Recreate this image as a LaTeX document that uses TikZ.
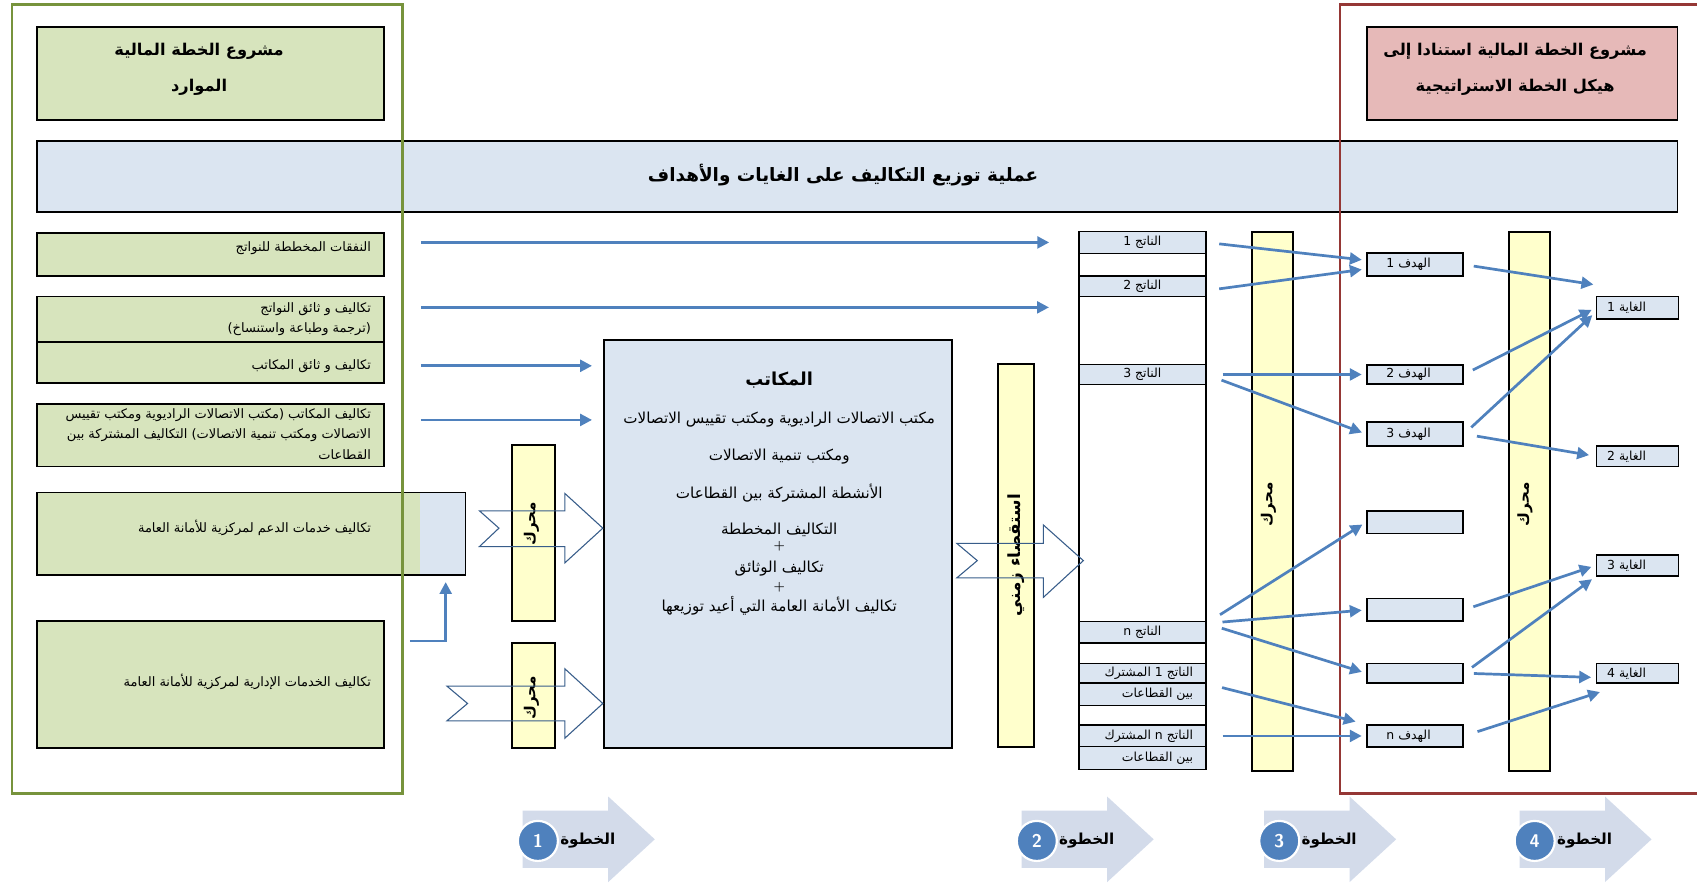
\documentclass[tikz,border=0pt]{standalone}
\usepackage{fontspec}
\usetikzlibrary{arrows.meta,positioning,calc}
\newfontfamily\arabicfont[Script=Arabic]{DejaVu Sans}
\TeXXeTstate=1
\newcommand\artxt[1]{{\arabicfont\beginR #1\endR}}
\definecolor{boxgreen}{HTML}{D7E4BD}
\definecolor{boxblue}{HTML}{DBE5F1}
\definecolor{boxpink}{HTML}{E6B9B8}
\definecolor{baryellow}{HTML}{FFFFCC}
\definecolor{arrowblue}{HTML}{4F81BD}
\definecolor{hollowblue}{HTML}{385D8A}
\definecolor{framegreen}{HTML}{77933C}
\definecolor{framered}{HTML}{953735}
\definecolor{stepfill}{HTML}{D3DBEA}

\tikzset{
	gbox/.style={draw, line width=1.6pt, fill=boxgreen, inner sep=0pt},
	bbox/.style={draw, line width=1.6pt, fill=boxblue, inner sep=0pt},
	rowbox/.style={draw, line width=1.2pt, fill=boxblue, inner sep=0pt, minimum width=117},
	goalbox/.style={draw, line width=1.6pt, fill=boxblue, inner sep=0pt, minimum width=89},
	aimbox/.style={draw, line width=1.6pt, fill=boxblue, inner sep=0pt, minimum width=76},
	ybar/.style={draw, line width=2pt, fill=baryellow, inner sep=0pt},
	bluearrow/.style={draw=arrowblue, line width=2.5pt, -{Triangle[length=11pt,width=11pt]}},
	hollow/.style={draw=hollowblue, line width=1pt},
	smalltxt/.style={font=\fontsize{11.5}{13}\selectfont, inner sep=0pt},
	lefttxt/.style={font=\fontsize{12}{19}\selectfont, inner sep=0pt, anchor=east, align=right},
	midtxt/.style={font=\fontsize{14}{16}\selectfont, inner sep=0pt},
	bartxt/.style={font=\fontsize{14}{16}\selectfont\bfseries, rotate=90, inner sep=0pt}
}

\begin{document}
\begin{tikzpicture}[x=1pt,y=-1pt]
	\useasboundingbox (0,0) rectangle (1568,815);
	
	% titles and band
	\node[gbox, minimum width=321, minimum height=86] (titleL) at (194.5,68) {};
	\node[font=\fontsize{15}{33}\selectfont\bfseries, align=center] at (184,64) {\artxt{مشروع الخطة المالية}\\\artxt{الموارد}};
	\node[gbox, fill=boxpink, minimum width=287, minimum height=86] (titleR) at (1406.5,68) {};
	\node[font=\fontsize{15}{33}\selectfont\bfseries, align=center] at (1400,64) {\artxt{مشروع الخطة المالية استنادا إلى}\\\artxt{هيكل الخطة الاستراتيجية}};
	\node[bbox, minimum width=1516, minimum height=66] (band) at (792,163) {};
	\node[font=\fontsize{17}{20}\selectfont\bfseries] at (779,162) {\artxt{عملية توزيع التكاليف على الغايات والأهداف}};
	
	% left boxes
	\node[gbox, minimum width=321, minimum height=40] (nafaqat) at (194.5,235) {};
	\node[lefttxt] at (343,229) {\artxt{النفقات المخططة للنواتج}};
	\node[gbox, minimum width=321, minimum height=42] (wathaiq) at (194.5,295) {};
	\node[lefttxt] at (343,295) {\artxt{تكاليف و ثائق النواتج}\\\artxt{(ترجمة وطباعة واستنساخ)}};
	\node[gbox, minimum width=321, minimum height=38] (maktab) at (194.5,335) {};
	\node[lefttxt] at (343,338) {\artxt{تكاليف و ثائق المكاتب}};
	\node[gbox, minimum width=321, minimum height=58] (takmak) at (194.5,402) {};
	\node[lefttxt] at (343,401) {\artxt{تكاليف المكاتب (مكتب الاتصالات الراديوية ومكتب تقييس}\\\artxt{الاتصالات ومكتب تنمية الاتصالات) التكاليف المشتركة بين}\\\artxt{القطاعات}};
	\node[bbox, minimum width=396, minimum height=76,
		path picture={\fill[boxgreen] (path picture bounding box.north west) rectangle ([xshift=-42pt]path picture bounding box.south east);}] (daam) at (232,493) {};
	\node[lefttxt] at (343,488) {\artxt{تكاليف خدمات الدعم لمركزية للأمانة العامة}};
	\node[gbox, minimum width=321, minimum height=117] (idaria) at (194.5,632.5) {};
	\node[lefttxt] at (343,630) {\artxt{تكاليف الخدمات الإدارية لمركزية للأمانة العامة}};
	
	% offices
	\node[bbox, line width=2pt, minimum width=322, minimum height=377] (makatib) at (719,502.5) {};
	\node[midtxt, font=\fontsize{16.5}{18}\selectfont\bfseries] at (720,351) {\artxt{المكاتب}};
	\node[midtxt] at (720,388) {\artxt{مكتب الاتصالات الراديوية ومكتب تقييس الاتصالات}};
	\node[midtxt] at (720,422) {\artxt{ومكتب تنمية الاتصالات}};
	\node[midtxt] at (720,456) {\artxt{الأنشطة المشتركة بين القطاعات}};
	\node[midtxt] at (720,490) {\artxt{التكاليف المخططة}};
	\node[midtxt, font=\fontsize{12}{12}\selectfont\bfseries] at (720,505) {+};
	\node[midtxt] at (720,525) {\artxt{تكاليف الوثائق}};
	\node[midtxt, font=\fontsize{12}{12}\selectfont\bfseries] at (720,543) {+};
	\node[midtxt] at (720,560) {\artxt{تكاليف الأمانة العامة التي أعيد توزيعها}};
	
	% driver bars
	\node[ybar, minimum width=40, minimum height=163] (bar1) at (493,492.5) {};
	\node[bartxt] at (491,484) {\artxt{محرك}};
	\node[ybar, minimum width=40, minimum height=97] (bar2) at (493,642.5) {};
	\node[bartxt] at (491,645) {\artxt{محرك}};
	\node[ybar, minimum width=33, minimum height=354] (bar3) at (938.5,513) {};
	\node[bartxt, font=\fontsize{15.5}{17}\selectfont\bfseries] at (938.5,513) {\artxt{استقصاء زمني}};
	\node[ybar, minimum width=38, minimum height=498] (bar4) at (1176,463) {};
	\node[bartxt] at (1172,466) {\artxt{محرك}};
	\node[ybar, minimum width=38, minimum height=498] (bar5) at (1413,463) {};
	\node[bartxt] at (1409,466) {\artxt{محرك}};
	
	% outputs column
	\node[draw, line width=1.6pt, fill=white, minimum width=117, minimum height=497, inner sep=0pt] (outcol) at (1055.5,462.5) {};
	\node[rowbox, minimum height=20] (nat1) at (1055.5,224) {};
	\node[smalltxt] at (nat1) {\artxt{الناتج 1}};
	\node[rowbox, minimum height=19] (nat2) at (1055.5,264.5) {};
	\node[smalltxt] at (nat2) {\artxt{الناتج 2}};
	\node[rowbox, minimum height=18] (nat3) at (1055.5,346) {};
	\node[smalltxt] at (nat3) {\artxt{الناتج 3}};
	\node[rowbox, minimum height=20] (natn) at (1055.5,584) {};
	\node[smalltxt] at (natn) {\artxt{الناتج n}};
	\node[rowbox, minimum height=18] (mush1a) at (1055.5,622) {};
	\node[smalltxt, anchor=east] at ([xshift=-12pt]mush1a.east) {\artxt{الناتج 1 المشترك}};
	\node[rowbox, minimum height=21] (mush1b) at (1055.5,641.5) {};
	\node[smalltxt, anchor=east] at ([xshift=-12pt]mush1b.east) {\artxt{بين القطاعات}};
	\node[rowbox, minimum height=20] (mushna) at (1055.5,680) {};
	\node[smalltxt, anchor=east] at ([xshift=-12pt]mushna.east) {\artxt{الناتج n المشترك}};
	\node[rowbox, minimum height=21] (mushnb) at (1055.5,700.5) {};
	\node[smalltxt, anchor=east] at ([xshift=-12pt]mushnb.east) {\artxt{بين القطاعات}};
	
	% goals
	\node[goalbox, minimum height=21] (hadaf1) at (1307.5,244.5) {};
	\node[smalltxt] at ([xshift=-6pt]hadaf1.center) {\artxt{الهدف 1}};
	\node[goalbox, minimum height=18] (hadaf2) at (1307.5,346) {};
	\node[smalltxt] at ([xshift=-6pt]hadaf2.center) {\artxt{الهدف 2}};
	\node[goalbox, minimum height=22] (hadaf3) at (1307.5,401) {};
	\node[smalltxt] at ([xshift=-6pt]hadaf3.center) {\artxt{الهدف 3}};
	\node[goalbox, minimum height=21] (hadaf4) at (1307.5,482.5) {};
	\node[goalbox, minimum height=21] (hadaf5) at (1307.5,563.5) {};
	\node[goalbox, minimum height=18] (hadaf6) at (1307.5,622) {};
	\node[goalbox, minimum height=20] (hadafn) at (1307.5,680) {};
	\node[smalltxt] at ([xshift=-6pt]hadafn.center) {\artxt{الهدف n}};
	
	% objectives
	\node[aimbox, minimum height=21] (ghaya1) at (1513,284.5) {};
	\node[smalltxt] at ([xshift=-10pt]ghaya1.center) {\artxt{الغاية 1}};
	\node[aimbox, minimum height=19] (ghaya2) at (1513,421.5) {};
	\node[smalltxt] at ([xshift=-10pt]ghaya2.center) {\artxt{الغاية 2}};
	\node[aimbox, minimum height=19] (ghaya3) at (1513,522.5) {};
	\node[smalltxt] at ([xshift=-10pt]ghaya3.center) {\artxt{الغاية 3}};
	\node[aimbox, minimum height=18] (ghaya4) at (1513,622) {};
	\node[smalltxt] at ([xshift=-10pt]ghaya4.center) {\artxt{الغاية 4}};
	
	% frames
	\draw[framegreen, line width=2.5pt] (11,4) rectangle (372,733);
	\draw[framered, line width=2.5pt] (1568,4) -- (1238,4) -- (1238,733) -- (1568,733);
	
	% hollow arrows
	\draw[hollow] (443,472) -- (522,472) -- (522,456) -- (557,488) -- (522,520) -- (522,505) -- (443,505) -- (461,488) -- cycle;
	\draw[hollow] (413,634) -- (522,634) -- (522,618) -- (557,650) -- (522,682) -- (522,666) -- (413,666) -- (432,650) -- cycle;
	\draw[hollow] (884,502) -- (964,502) -- (964,485) -- (1001,518) -- (964,552) -- (964,534) -- (884,534) -- (903,518) -- cycle;
	
	% arrows left part
	\draw[bluearrow, shorten <=33pt, shorten >=27pt] (nafaqat.east |- nat1.west) -- (nat1.west);
	\draw[bluearrow, shorten <=33pt, shorten >=27pt] ([yshift=11pt]wathaiq.east) -- ([yshift=11pt]wathaiq.east -| outcol.west);
	\draw[bluearrow, shorten <=33pt, shorten >=10pt] ([yshift=-3pt]maktab.east) -- ([yshift=-3pt]maktab.east -| makatib.west);
	\draw[bluearrow, shorten <=33pt, shorten >=10pt] ([yshift=14pt]takmak.east) -- ([yshift=14pt]takmak.east -| makatib.west);
	\draw[bluearrow] ([xshift=23pt,yshift=-19pt]idaria.north east) -| ([xshift=-19pt,yshift=-6pt]daam.south east);
	
	% arrows outputs to goals
	\draw[bluearrow, shorten <=12pt, shorten >=4pt] (nat1.east) -- ([yshift=4pt]hadaf1.west);
	\draw[bluearrow, shorten <=12pt, shorten >=4pt] ([yshift=-4pt]nat2.east) -- ([yshift=-4pt]hadaf1.west);
	\draw[bluearrow, shorten <=15pt, shorten >=4pt] (nat3.east) -- (hadaf2.west);
	\draw[bluearrow, shorten <=15pt, shorten >=4pt] (nat3.east) -- (hadaf3.west);
	\draw[bluearrow, shorten <=15pt, shorten >=4pt] ([yshift=8pt]natn.east) -- (hadaf4.west);
	\draw[bluearrow, shorten <=15pt, shorten >=4pt] ([yshift=8pt]natn.east) -- (hadaf5.west);
	\draw[bluearrow, shorten <=15pt, shorten >=4pt] ([yshift=8pt]natn.east) -- (hadaf6.west);
	\draw[bluearrow, shorten <=15pt, shorten >=10pt] (mush1a.south east) -- (hadafn.north west);
	\draw[bluearrow, shorten <=15pt, shorten >=4pt] (mushna.east) -- (hadafn.west);
	
	% arrows goals to objectives
	\draw[bluearrow, shorten <=9pt, shorten >=2pt] (hadaf1.east) -- ([yshift=10pt]ghaya1.north west);
	\draw[bluearrow, shorten <=9pt, shorten >=4pt] (hadaf2.east) -- (ghaya1.west);
	\draw[bluearrow, shorten <=9pt, shorten >=4pt] (hadaf3.east) -- ([yshift=-4pt]ghaya1.west);
	\draw[bluearrow, shorten <=12pt, shorten >=6pt] (hadaf3.east) -- (ghaya2.west);
	\draw[bluearrow, shorten <=9pt, shorten >=4pt] (hadaf5.east) -- (ghaya3.west);
	\draw[bluearrow, shorten <=9pt, shorten >=4pt] (hadaf6.east) -- (ghaya3.south west);
	\draw[bluearrow, shorten <=9pt, shorten >=4pt] (hadaf6.east) -- ([yshift=-4pt]ghaya4.west);
	\draw[bluearrow, shorten <=13pt, shorten >=2pt] (hadafn.east) -- ([xshift=6pt,yshift=-7pt]ghaya4.south west);
	
	% steps
	\foreach \sx/\num in {483/1, 944/2, 1168/3, 1404/4} {
		\fill[stepfill] (\sx,749) -- (\sx+79,749) -- (\sx+79,736) -- (\sx+122,775.5) -- (\sx+79,815) -- (\sx+79,802) -- (\sx,802) -- cycle;
		\node[circle, fill=arrowblue, draw=white, line width=2pt, minimum size=37, inner sep=0pt,
			text=white, font=\fontsize{17}{17}\selectfont\bfseries\sffamily] (step\num) at (\sx+14,777) {\num};
		\node[font=\fontsize{14}{16}\selectfont\bfseries, anchor=west, inner sep=0pt] at ([xshift=1pt]step\num.east) {\artxt{الخطوة}};
	}
\end{tikzpicture}
\end{document}
